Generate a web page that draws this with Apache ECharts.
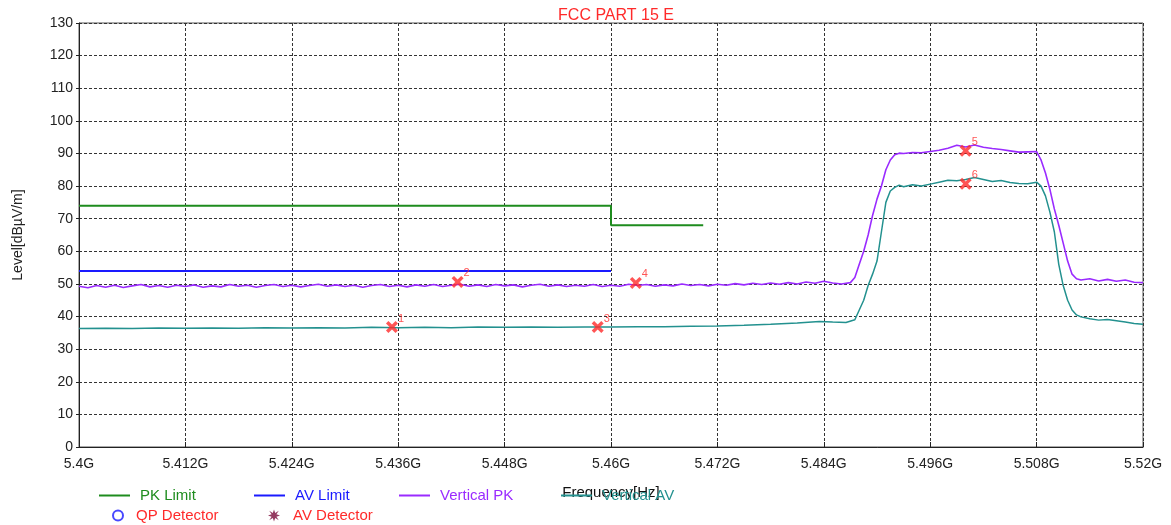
<!DOCTYPE html>
<html lang="en" style="height: 100%">
<head>
  <meta charset="utf-8">
</head>
<body style="height: 100%; margin: 0; background: #fff">
  <div id="container" style="width: 1171px; height: 525px"></div>

  <script type="text/javascript" src="https://cdn.jsdelivr.net/npm/echarts@6/dist/echarts.min.js"></script>

  <script type="text/javascript">
    // frequency in GHz, level in dBuV/m
    var pkLimit = [[5.400, 74], [5.460, 74], [5.460, 68], [5.4704, 68]];
    var avLimit = [[5.400, 54], [5.460, 54]];

    var verticalPK = [
      [5.400, 49.3], [5.401, 48.8], [5.402, 49.5], [5.403, 49.0], [5.404, 49.6], [5.405, 48.9],
      [5.406, 49.4], [5.407, 49.8], [5.408, 49.1], [5.409, 49.5], [5.410, 49.0], [5.411, 49.6],
      [5.412, 49.2], [5.413, 49.7], [5.414, 49.0], [5.415, 49.4], [5.416, 49.1], [5.417, 49.8],
      [5.418, 49.3], [5.419, 49.6], [5.420, 49.0], [5.421, 49.5], [5.422, 49.8], [5.423, 49.2],
      [5.424, 49.6], [5.425, 49.1], [5.426, 49.5], [5.427, 49.9], [5.428, 49.3], [5.429, 49.7],
      [5.430, 49.2], [5.431, 49.6], [5.432, 49.0], [5.433, 49.5], [5.434, 49.8], [5.435, 49.2],
      [5.436, 49.6], [5.437, 49.1], [5.438, 49.7], [5.439, 49.3], [5.440, 49.8], [5.441, 49.2],
      [5.442, 49.6], [5.443, 49.9], [5.444, 49.3], [5.445, 49.7], [5.446, 49.2], [5.447, 49.8],
      [5.448, 49.4], [5.449, 49.7], [5.450, 49.1], [5.451, 49.6], [5.452, 49.9], [5.453, 49.3],
      [5.454, 49.7], [5.455, 49.2], [5.456, 49.6], [5.457, 49.3], [5.458, 49.8], [5.459, 49.2],
      [5.460, 49.6], [5.461, 49.3], [5.462, 49.9], [5.463, 49.5], [5.464, 49.8], [5.465, 49.3],
      [5.466, 49.7], [5.467, 49.4], [5.468, 50.0], [5.469, 49.5], [5.470, 49.8], [5.471, 49.4],
      [5.472, 49.9], [5.473, 49.6], [5.474, 50.1], [5.475, 49.7], [5.476, 50.2], [5.477, 49.8],
      [5.478, 50.3], [5.479, 49.9], [5.480, 50.4], [5.481, 50.0], [5.482, 50.6], [5.483, 50.2],
      [5.484, 50.8], [5.485, 50.3], [5.486, 50.0], [5.487, 50.4], [5.4875, 52.0], [5.488, 56.0],
      [5.4885, 60.0], [5.489, 65.0], [5.4895, 71.0], [5.490, 76.0], [5.4905, 80.0], [5.491, 85.0],
      [5.4915, 88.0], [5.492, 89.6], [5.4925, 90.1], [5.493, 90.0], [5.494, 90.3], [5.495, 90.2],
      [5.496, 90.6], [5.497, 91.0], [5.498, 91.6], [5.499, 92.5], [5.500, 92.0], [5.501, 92.6],
      [5.502, 91.9], [5.503, 91.5], [5.504, 91.2], [5.505, 90.8], [5.506, 90.4], [5.507, 90.5],
      [5.508, 90.6], [5.5085, 88.0], [5.509, 84.0], [5.5095, 79.0], [5.510, 73.0], [5.5105, 68.0],
      [5.511, 62.5], [5.5115, 57.0], [5.512, 53.0], [5.5125, 51.6], [5.513, 51.2], [5.514, 51.6],
      [5.515, 50.9], [5.516, 51.4], [5.517, 50.8], [5.518, 51.2], [5.519, 50.5], [5.520, 50.4]
    ];

    var verticalAV = [
      [5.400, 36.3], [5.403, 36.4], [5.406, 36.3], [5.409, 36.5], [5.412, 36.4], [5.415, 36.5],
      [5.418, 36.4], [5.421, 36.6], [5.424, 36.5], [5.427, 36.6], [5.430, 36.5], [5.433, 36.7],
      [5.436, 36.6], [5.439, 36.7], [5.442, 36.6], [5.445, 36.8], [5.448, 36.7], [5.451, 36.8],
      [5.454, 36.7], [5.457, 36.8], [5.460, 36.8], [5.463, 36.9], [5.466, 36.9], [5.469, 37.0],
      [5.472, 37.1], [5.475, 37.3], [5.478, 37.6], [5.481, 38.0], [5.4835, 38.5], [5.485, 38.3],
      [5.4865, 38.2], [5.4875, 39.0], [5.488, 42.0], [5.4885, 45.0], [5.489, 49.5], [5.4895, 53.0],
      [5.490, 57.0], [5.4905, 66.0], [5.491, 75.0], [5.4915, 78.5], [5.492, 79.6], [5.4925, 80.3],
      [5.493, 79.8], [5.494, 80.4], [5.495, 80.0], [5.496, 80.6], [5.497, 81.2], [5.498, 81.8],
      [5.499, 81.6], [5.500, 82.0], [5.501, 82.6], [5.502, 82.0], [5.503, 81.4], [5.504, 81.7],
      [5.505, 81.1], [5.506, 80.8], [5.507, 80.7], [5.508, 81.2], [5.5085, 80.0], [5.509, 77.0],
      [5.5095, 72.0], [5.510, 66.0], [5.5105, 56.0], [5.511, 49.5], [5.5115, 45.0], [5.512, 42.0],
      [5.5125, 40.5], [5.513, 39.9], [5.514, 39.3], [5.515, 38.9], [5.516, 39.1], [5.517, 38.7],
      [5.518, 38.3], [5.519, 37.9], [5.520, 37.6]
    ];

    // marker: [freq, level, label]
    var markers = [
      [5.4353, 36.8, '1'], [5.4427, 50.6, '2'], [5.4585, 36.8, '3'],
      [5.4628, 50.3, '4'], [5.5000, 90.8, '5'], [5.5000, 80.7, '6']
    ];

    var dom = document.getElementById('container');
    var myChart = echarts.init(dom, null, { renderer: 'canvas' });
    var font = '"Liberation Sans", Arial, sans-serif';
    var crossPath = 'path://M2,0 L5,3 L8,0 L10,2 L7,5 L10,8 L8,10 L5,7 L2,10 L0,8 L3,5 L0,2 Z';
    var starPath = 'path://M5,0 L6,3 L9,1 L7,4 L10,5 L7,6 L9,9 L6,7 L5,10 L4,7 L1,9 L3,6 L0,5 L3,4 L1,1 L4,3 Z';

    function lineLegend(name, left, top, color) {
      return {
        data: [name], left: left, top: top, icon: 'rect',
        itemWidth: 31, itemHeight: 2, selectedMode: false,
        textStyle: { color: color, fontSize: 15, fontFamily: font, padding: [0, 0, 0, 5] }
      };
    }

    var option = {
      backgroundColor: '#fff',
      animation: false,
      title: {
        text: 'FCC PART 15 E', left: 611, top: 3, textAlign: 'center',
        textStyle: { color: '#ff2a2a', fontSize: 16, fontWeight: 'normal', fontFamily: font }
      },
      legend: [
        lineLegend('PK Limit', 94, 483, '#1e8c1e'),
        lineLegend('AV Limit', 249, 483, '#1a1aff'),
        lineLegend('Vertical PK', 394, 483, '#9a2bff'),
        lineLegend('Vertical AV', 556, 483, '#23918f'),
        {
          data: ['QP Detector'], left: 107, top: 503, itemWidth: 10, itemHeight: 10,
          selectedMode: false,
          textStyle: { color: '#ff2a2a', fontSize: 15, fontFamily: font, padding: [0, 0, 0, 8] }
        },
        {
          data: ['AV Detector'], left: 263, top: 503, itemWidth: 12, itemHeight: 12,
          selectedMode: false,
          textStyle: { color: '#ff2a2a', fontSize: 15, fontFamily: font, padding: [0, 0, 0, 8] }
        }
      ],
      grid: {
        left: 79, right: 28, top: 23, bottom: 78,
        show: true, borderColor: '#555', borderWidth: 1
      },
      xAxis: {
        type: 'value', min: 5.4, max: 5.52, interval: 0.012,
        name: 'Frequency[Hz]', nameLocation: 'middle', nameGap: 38,
        nameTextStyle: { color: '#111', fontSize: 15, fontFamily: font },
        axisLine: { lineStyle: { color: '#222' } },
        axisTick: { inside: true, length: 5, lineStyle: { color: '#222' } },
        axisLabel: {
          color: '#222', fontSize: 14, fontFamily: font, margin: 10,
          formatter: function (v) { return parseFloat(v.toFixed(3)) + 'G'; }
        },
        splitLine: { lineStyle: { color: '#333', type: [3, 2] } }
      },
      yAxis: {
        type: 'value', min: 0, max: 130, interval: 10,
        name: 'Level[dBµV/m]', nameLocation: 'middle', nameGap: 54, nameRotate: 90,
        nameTextStyle: { color: '#222', fontSize: 14, fontFamily: font },
        axisLine: { show: true, lineStyle: { color: '#222' } },
        axisTick: { show: true, length: 3, lineStyle: { color: '#222' } },
        axisLabel: { color: '#222', fontSize: 14, fontFamily: font, margin: 6 },
        splitLine: { lineStyle: { color: '#333', type: [3, 2] } }
      },
      series: [
        {
          name: 'PK Limit', type: 'line', data: pkLimit, showSymbol: false,
          itemStyle: { color: '#1e8c1e' }, lineStyle: { color: '#1e8c1e', width: 2 }
        },
        {
          name: 'AV Limit', type: 'line', data: avLimit, showSymbol: false,
          itemStyle: { color: '#1a1aff' }, lineStyle: { color: '#1a1aff', width: 2 }
        },
        {
          name: 'Vertical PK', type: 'line', data: verticalPK, showSymbol: false,
          itemStyle: { color: '#9a2bff' }, lineStyle: { color: '#9a2bff', width: 1.6 }
        },
        {
          name: 'Vertical AV', type: 'line', data: verticalAV, showSymbol: false,
          itemStyle: { color: '#23918f' }, lineStyle: { color: '#23918f', width: 1.5 }
        },
        {
          name: 'QP Detector', type: 'scatter', data: [], symbol: 'circle',
          itemStyle: { color: '#fff', borderColor: '#1a1aff', borderWidth: 2.5 }
        },
        {
          name: 'AV Detector', type: 'scatter', data: [], symbol: starPath,
          itemStyle: { color: '#7a0a3a' }
        },
        {
          name: 'Markers', type: 'scatter', data: markers, symbol: crossPath, symbolSize: 12,
          itemStyle: { color: '#ff2a2a' }, z: 5,
          label: {
            show: true, position: [12, -8], color: '#ff2a2a', fontSize: 11, fontFamily: font,
            formatter: function (p) { return p.value[2]; }
          }
        }
      ]
    };

    myChart.setOption(option);
    window.addEventListener('resize', myChart.resize);
  </script>
</body>
</html>
